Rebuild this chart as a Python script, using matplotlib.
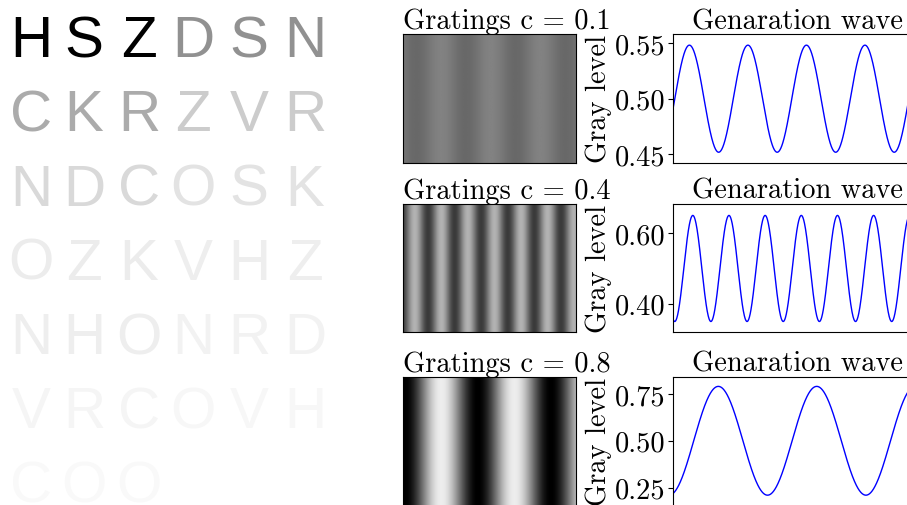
import numpy as np
import matplotlib
matplotlib.use("Agg")
import matplotlib.pyplot as plt

plt.rcParams['font.family'] = 'serif'
plt.rcParams['font.serif'] = ['cmr10']
plt.rcParams['mathtext.fontset'] = 'cm'
plt.rcParams['axes.formatter.use_mathtext'] = True

# letter chart (rows of letters, one gray level per triplet)
chart_rows = ["HSZDSN", "CKRZVR", "NDCOSK", "OZKVHZ", "NHONRD", "VRCOVH", "COO"]
triplet_gray = [0.0, 0.57, 0.67, 0.80, 0.85, 0.89, 0.925, 0.935,
                0.935, 0.95, 0.96, 0.968, 0.975]

# gratings / generation waves
contrasts = [0.1, 0.4, 0.8]
# grating image: gray range and stripe period / first dark stripe (fraction of width)
img_lo = [0.41, 0.23, 0.0]
img_hi = [0.51, 0.70, 0.93]
img_period = [0.2885, 0.154, 0.424]
img_dark = [0.075, -0.0098, 0.0087]
# wave: x from 0 to 400
wave_amp = [0.048, 0.15, 0.29]
wave_mid = [0.5, 0.5, 0.5]
wave_period = [94.5, 58.4, 158.9]
wave_peak = [26.0, 31.5, 72.7]
wave_ylim = [(0.4428, 0.558), (0.3203, 0.6837), (0.155, 0.840)]
wave_ticks = [[0.45, 0.50, 0.55], [0.40, 0.60], [0.25, 0.50, 0.75]]

W, H = 907, 506
fig = plt.figure(figsize=(W / 100, H / 100), dpi=100)


def px_axes(left, top, width, height):
    return fig.add_axes([left / W, 1 - (top + height) / H, width / W, height / H])


# left: letter chart
bg = fig.add_axes([0, 0, 1, 1])
bg.set_xlim(0, W)
bg.set_ylim(H, 0)
bg.axis('off')
col_x = [31, 84, 139, 193, 249, 305]
for r, row in enumerate(chart_rows):
    for k, letter in enumerate(row):
        g = triplet_gray[r * 2 + k // 3]
        bg.text(col_x[k], 57 + 74.3 * r, letter, ha='center', va='baseline',
                fontsize=42, family='Liberation Sans', color=(g, g, g))

# right: gratings and waves
tops = [35, 204.5, 378]
fs = 20.5
for i, c in enumerate(contrasts):
    ax_img = px_axes(403, tops[i], 173, 128.5)
    xs = np.linspace(0, 1, 400)
    col = img_lo[i] + (img_hi[i] - img_lo[i]) * \
        (1 - np.cos(2 * np.pi * (xs - img_dark[i]) / img_period[i])) / 2
    img = np.tile(col, (300, 1))
    ax_img.imshow(img, cmap='gray', vmin=0, vmax=1, aspect='auto',
                  interpolation='bilinear')
    ax_img.set_xticks([])
    ax_img.set_yticks([])
    for s in ax_img.spines.values():
        s.set_linewidth(0.8)
    ax_img.set_title("Gratings c = %s" % c, loc='left', fontsize=fs, pad=3)

    ax_w = px_axes(673.3, tops[i], 247.7, 128.5)
    x = np.linspace(0, 400, 1200)
    y = wave_mid[i] + wave_amp[i] * np.sin(
        2 * np.pi * (x - wave_peak[i]) / wave_period[i] + np.pi / 2)
    ax_w.plot(x, y, color='blue', lw=1)
    ax_w.set_xlim(0, 400)
    ax_w.set_ylim(*wave_ylim[i])
    ax_w.set_xticks([])
    ax_w.set_yticks(wave_ticks[i])
    ax_w.set_yticklabels(["%.2f" % t for t in wave_ticks[i]])
    ax_w.tick_params(labelsize=fs, pad=2)
    ax_w.set_ylabel("Gray level", fontsize=fs, labelpad=2)
    ax_w.set_title("Genaration wave", fontsize=fs, pad=3)

fig.savefig("out.png", dpi=100)
